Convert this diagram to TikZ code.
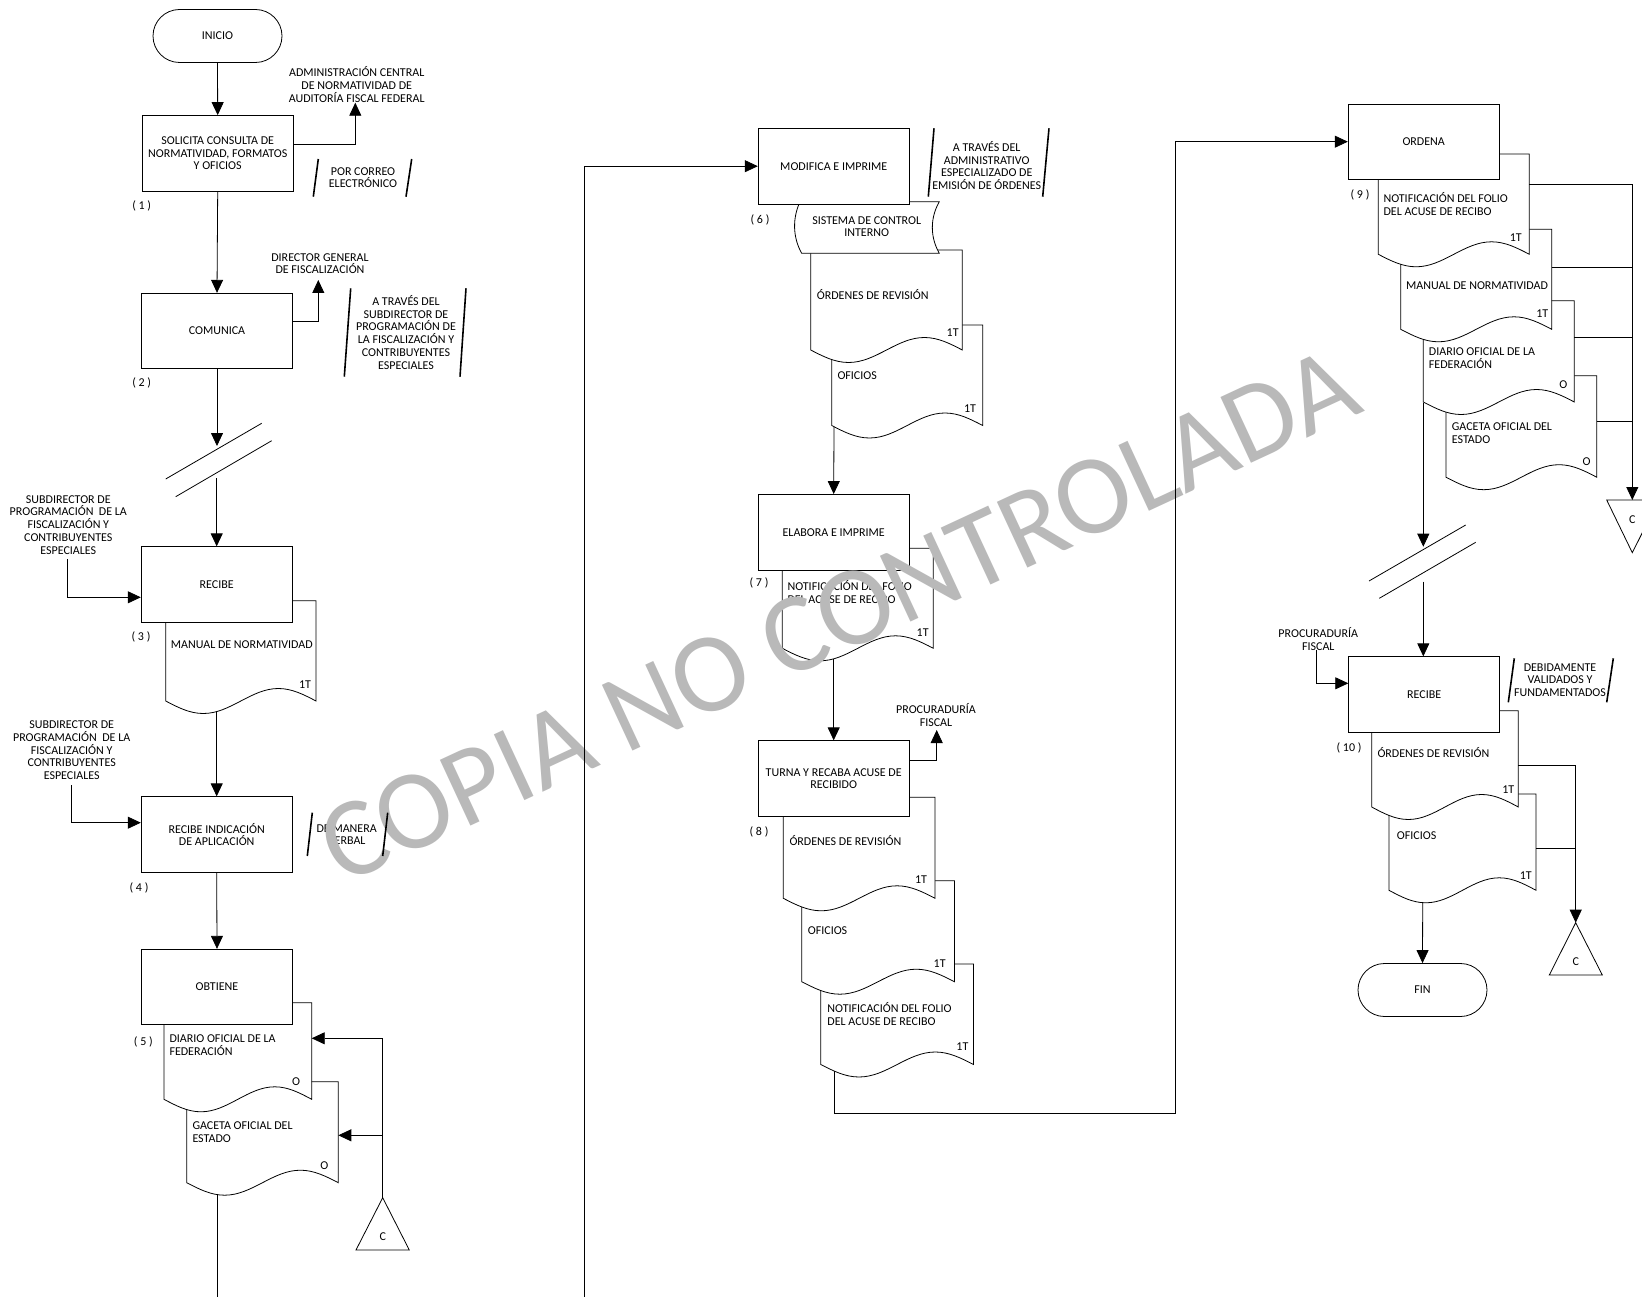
\documentclass[tikz,border=0pt]{standalone}
\usepackage{fontspec}
\setmainfont{Carlito}
\usetikzlibrary{arrows.meta,calc}
\definecolor{wmgray}{RGB}{185,185,185}
\newcommand{\mydoc}[4]{%
  \path[docs] (#1,#2) -- (#3,#2) -- (#3,#4)
    sin ({#3-0.25*(#3-#1)},{#4-12.5}) cos ({#3-0.5*(#3-#1)},#4)
    sin ({#3-0.75*(#3-#1)},{#4+12.5}) cos (#1,#4) -- cycle;}
\begin{document}
\begin{tikzpicture}[x=1pt,y=-1pt,
  every node/.style={font=\fontsize{12}{12.7}\selectfont},
  proc/.style={draw, fill=white, line width=0.8pt, minimum width=151pt, minimum height=75.5pt, inner sep=1pt, align=center},
  term/.style={draw, fill=white, line width=0.8pt, rounded corners=26.5pt, minimum width=129pt, minimum height=53pt, inner sep=1pt},
  lbl/.style={inner sep=0pt, align=center},
  lbll/.style={inner sep=0pt, align=left, anchor=west},
  docs/.style={draw, fill=white, line width=0.8pt},
  arr/.style={-{Triangle[length=13pt,width=12pt]}, line width=0.8pt},
  ln/.style={line width=0.8pt},
  slashln/.style={line width=1.6pt},
  tri/.style={draw, fill=white, line width=0.8pt}]
\useasboundingbox (0,0) rectangle (1642,1297);
\clip (0,0) rectangle (1642,1297);
\fill[white] (0,0) rectangle (1642,1297);

% ---------------- column 1 ----------------
\node[term] (ini) at (217.5,36) {INICIO};
\node[proc] (b1) at (217.7,153.3) {SOLICITA CONSULTA DE\\NORMATIVIDAD, FORMATOS\\Y OFICIOS};
\node[lbl] (admin) at (356.7,84.5) {ADMINISTRACIÓN CENTRAL\\DE NORMATIVIDAD DE\\AUDITORÍA FISCAL FEDERAL};
\coordinate (adminin) at (355.3,102.7);
\node[lbl] (correo) at (363,177.5) {POR CORREO\\ELECTRÓNICO};
\node[lbl] (n1) at (141.7,205.7) {( 1 )};

\node[proc] (b2) at (217,331) {COMUNICA};
\node[lbl] (dirgen) at (320,263.7) {DIRECTOR GENERAL\\DE FISCALIZACIÓN};
\coordinate (dirgenin) at (318.3,280);
\node[lbl] (atr1) at (406,332.3) {A TRAVÉS DEL\\SUBDIRECTOR DE\\PROGRAMACIÓN DE\\LA FISCALIZACIÓN Y\\CONTRIBUYENTES\\ESPECIALES};
\node[lbl] (n2) at (141.7,382.7) {( 2 )};
\coordinate (brk1a) at (217,446);
\coordinate (brk1b) at (216.7,478.3);

\mydoc{165.7}{600.7}{316}{701}
\node[lbll] (t3) at (170.7,644.3) {MANUAL DE NORMATIVIDAD};
\node[lbl] (t3c) at (305,685) {1T};
\coordinate (d3b) at (216.7,711.5);
\node[proc] (b3) at (216.7,584.5) {RECIBE};
\node[lbl] (in3) at (68.3,524.8) {SUBDIRECTOR DE\\PROGRAMACIÓN\ \ DE LA\\FISCALIZACIÓN Y\\CONTRIBUYENTES\\ESPECIALES};
\coordinate (in3s) at (67.7,559.3);
\node[lbl] (n3) at (141,636.7) {( 3 )};

\node[proc] (b4) at (216.7,834.5) {RECIBE INDICACIÓN\\DE APLICACIÓN};
\node[lbl] (in4) at (71.7,750.3) {SUBDIRECTOR DE\\PROGRAMACIÓN\ \ DE LA\\FISCALIZACIÓN Y\\CONTRIBUYENTES\\ESPECIALES};
\coordinate (in4s) at (71.7,785);
\node[lbl] (verbal) at (346.7,834.7) {DE MANERA\\VERBAL};
\node[lbl] (n4) at (139,887.7) {( 4 )};

\mydoc{186.7}{1081.7}{338.3}{1182.7}
\node[lbll] (t5b) at (192.3,1132.2) {GACETA OFICIAL DEL\\ESTADO};
\node[lbl] (t5bc) at (324.3,1165.7) {O};
\mydoc{164}{1002.7}{311.7}{1099.3}
\node[lbll] (t5a) at (169.3,1044.8) {DIARIO OFICIAL DE LA\\FEDERACIÓN};
\node[lbl] (t5ac) at (296,1081.7) {O};
\node[proc] (b5) at (217,987) {OBTIENE};
\node[lbl] (n5) at (143.3,1042.3) {( 5 )};
\coordinate (d5aR) at (311.7,1038.3);
\coordinate (d5bR) at (338.3,1135.3);
\coordinate (c5mid) at (382.7,1135.3);
\coordinate (c5top) at (382.7,1197.7);
\draw[tri] (356,1250) -- (c5top) -- (409.3,1250) -- cycle;
\node[lbl] (c5) at (382.7,1236.7) {C};
\coordinate (d5bb) at (217,1194.6);
\coordinate (col1end) at (217,1297);

% ---------------- column 2 ----------------
\coordinate (col2start) at (584.3,1297);
\mydoc{831.7}{325}{982.7}{425.5}
\node[lbll] (t6b) at (837.3,376) {OFICIOS};
\node[lbl] (t6bc) at (970,408.3) {1T};
\mydoc{810.7}{250}{962.3}{350}
\node[lbll] (t6a) at (816.7,294.3) {ÓRDENES DE REVISIÓN};
\node[lbl] (t6ac) at (952.7,332.3) {1T};
\path[docs] (800,201.7) -- (939.3,201.7) .. controls (930,218) and (930,237) .. (939.3,253.3)
  -- (801.7,253.3) .. controls (792.5,237) and (792.5,218) .. (800,201.7) -- cycle;
\node[lbl] (sci) at (866.7,226.7) {SISTEMA DE CONTROL\\INTERNO};
\node[proc] (b6) at (833.7,166.2) {MODIFICA E IMPRIME};
\node[lbl] (atr2) at (986.7,165.6) {A TRAVÉS DEL\\ADMINISTRATIVO\\ESPECIALIZADO DE\\EMISIÓN DE ÓRDENES};
\node[lbl] (n6) at (760,220) {( 6 )};
\coordinate (d6bb) at (834,427);

\mydoc{782.3}{548.3}{933.3}{648.3}
\node[lbll] (t7) at (787.3,592) {NOTIFICACIÓN DEL FOLIO\\DEL ACUSE DE RECIBO};
\node[lbl] (t7c) at (922.7,632.3) {1T};
\node[proc] (b7) at (833.7,532.2) {ELABORA E IMPRIME};
\node[lbl] (n7) at (759,582.7) {( 7 )};
\coordinate (d7b) at (833.7,659);

\mydoc{820.8}{964}{973.5}{1064.5}
\node[lbll] (t8c) at (827.2,1014) {NOTIFICACIÓN DEL FOLIO\\DEL ACUSE DE RECIBO};
\node[lbl] (t8cc) at (962.4,1046.7) {1T};
\mydoc{801.7}{880.7}{954.4}{981.7}
\node[lbll] (t8b) at (807.7,930.7) {OFICIOS};
\node[lbl] (t8bc) at (939.7,963.3) {1T};
\mydoc{783.3}{797.3}{935}{898.3}
\node[lbll] (t8a) at (789.3,841) {ÓRDENES DE REVISIÓN};
\node[lbl] (t8ac) at (921,880) {1T};
\node[proc] (b8) at (833.7,778.5) {TURNA Y RECABA ACUSE DE\\RECIBIDO};
\node[lbl] (procu1) at (936,715) {PROCURADURÍA\\FISCAL};
\coordinate (procuin) at (936.7,730);
\node[lbl] (n8) at (759,831.7) {( 8 )};
\coordinate (d8cb) at (834.4,1071);
\coordinate (loopc) at (1175.7,1113.5);

% ---------------- column 3 ----------------
\mydoc{1446}{375.7}{1596.7}{477.2}
\node[lbll] (t9d) at (1451.7,433) {GACETA OFICIAL DEL\\ESTADO};
\node[lbl] (t9dc) at (1586.7,461.7) {O};
\mydoc{1423.3}{300.7}{1574.3}{402}
\node[lbll] (t9c) at (1428.7,358) {DIARIO OFICIAL DE LA\\FEDERACIÓN};
\node[lbl] (t9cc) at (1563.3,384.3) {O};
\mydoc{1400.7}{229.3}{1551.7}{329.3}
\node[lbll] (t9b) at (1406,285.7) {MANUAL DE NORMATIVIDAD};
\node[lbl] (t9bc) at (1542.3,313.3) {1T};
\mydoc{1378.3}{154}{1529.3}{254.3}
\node[lbll] (t9a) at (1383.3,203.7) {NOTIFICACIÓN DEL FOLIO\\DEL ACUSE DE RECIBO};
\node[lbl] (t9ac) at (1515.7,237.3) {1T};
\node[proc] (b9) at (1423.7,141.7) {ORDENA};
\node[lbl] (n9) at (1360,195) {( 9 )};
\coordinate (d9aR) at (1529.3,184);
\coordinate (d9bR) at (1551.7,267.3);
\coordinate (d9cR) at (1574.3,337.7);
\coordinate (d9dR) at (1596.7,421);
\coordinate (c9top) at (1632.3,500);
\draw[tri] (1606.7,500) -- (1658.7,500) -- (1632.3,552.7) -- cycle;
\node[lbl] (c9) at (1632.3,520) {C};
\coordinate (d9cb) at (1423.3,402.5);
\coordinate (brk2a) at (1423.3,546.7);
\coordinate (brk2b) at (1423.3,581.7);

\mydoc{1389}{794}{1536}{890.3}
\node[lbll] (t10b) at (1396.7,836) {OFICIOS};
\node[lbl] (t10bc) at (1525.7,875.7) {1T};
\mydoc{1371.7}{710.7}{1518.3}{807}
\node[lbll] (t10a) at (1377.3,752.3) {ÓRDENES DE REVISIÓN};
\node[lbl] (t10ac) at (1508.3,789.3) {1T};
\node[proc] (b10) at (1424.2,694.5) {RECIBE};
\node[lbl] (procu2) at (1318.3,638.8) {PROCURADURÍA\\FISCAL};
\coordinate (in10s) at (1316,650);
\node[lbl] (debid) at (1560,680) {DEBIDAMENTE\\VALIDADOS Y\\FUNDAMENTADOS};
\node[lbl] (n10) at (1349,748.3) {( 10 )};
\coordinate (d10aR) at (1518.3,765);
\coordinate (d10bR) at (1536,848.3);
\coordinate (c10top) at (1575.7,922.7);
\draw[tri] (1549.3,975) -- (c10top) -- (1602.3,975) -- cycle;
\node[lbl] (c10) at (1575.7,961.7) {C};
\coordinate (d10bb) at (1422.7,902.7);
\node[term] (fin) at (1422.5,990) {FIN};

% ---------------- watermark ----------------
\node[text=wmgray, font=\fontsize{113}{113}\selectfont, anchor=base west, rotate=24.9, inner sep=0pt] (wm) at (342,886) {COPIA NO CONTROLADA};

% ---------------- annotation slashes ----------------
\draw[slashln] (318.3,159) -- (313.3,196.7);
\draw[slashln] (411.7,159) -- (406,196.7);
\draw[slashln] (350.7,288.3) -- (344.3,376.7);
\draw[slashln] (466,288.3) -- (460,376.7);
\draw[slashln] (312.3,812.7) -- (307.3,856);
\draw[slashln] (387.7,812.7) -- (382.7,856);
\draw[slashln] (934,128.3) -- (928.3,196.7);
\draw[slashln] (1049,128.3) -- (1042.7,196.7);
\draw[slashln] (1514.3,658.3) -- (1508.3,702.3);
\draw[slashln] (1613.3,658.3) -- (1606.7,702.3);

% ---------------- break marks ----------------
\draw[ln] (165.7,479) -- (261.7,423.3);
\draw[ln] (175.7,496.7) -- (271.7,440.7);
\draw[ln] (1369,581) -- (1465.7,525);
\draw[ln] (1379.3,598.3) -- (1475.7,542.3);

% ---------------- connectors ----------------
\draw[arr] (ini.south) -- (b1.north);
\draw[arr] ([yshift=9.3pt]b1.east) -| (adminin);
\draw[arr] (b1.south) -- (b2.north);
\draw[arr] ([yshift=10pt]b2.east) -| (dirgenin);
\draw[arr] (b2.south) -- (brk1a);
\draw[arr] (brk1b) -- (b3.north);
\draw[arr] (in3s) |- ([yshift=-12.8pt]b3.west);
\draw[arr] (d3b) -- (b4.north);
\draw[arr] (in4s) |- ([yshift=11.8pt]b4.west);
\draw[arr] (b4.south) -- (b5.north);
\draw[arr] (c5top) |- (d5aR);
\draw[arr] (c5mid) -- (d5bR);
\draw[ln] (d5bb) -- (col1end);

\draw[arr] (col2start) |- (b6.west);
\draw[arr] (d6bb) -- (b7.north);
\draw[arr] (d7b) -- (b8.north);
\draw[arr] ([yshift=18.5pt]b8.east) -| (procuin);
\draw[ln] (d8cb) |- (loopc);
\draw[arr] (loopc) |- (b9.west);

\draw[arr] (d9aR) -| (c9top);
\draw[ln] (d9bR) -- (d9bR -| c9top);
\draw[ln] (d9cR) -- (d9cR -| c9top);
\draw[ln] (d9dR) -- (d9dR -| c9top);
\draw[arr] (d9cb) -- (brk2a);
\draw[arr] (brk2b) -- (brk2b |- b10.north);
\draw[arr] (in10s) |- ([yshift=11.2pt]b10.west);
\draw[arr] (d10aR) -| (c10top);
\draw[ln] (d10bR) -- (d10bR -| c10top);
\draw[arr] (d10bb) -- (fin.north);
\end{tikzpicture}
\end{document}
